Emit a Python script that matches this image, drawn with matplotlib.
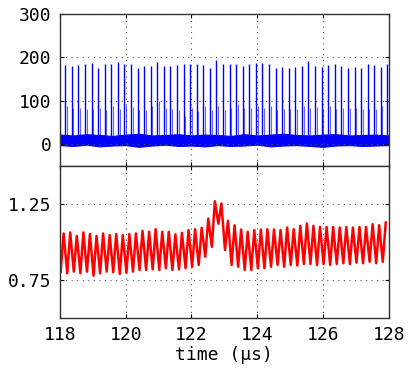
import numpy as np
import matplotlib
matplotlib.use("Agg")
import matplotlib.pyplot as plt

plt.rcParams['font.family'] = ['DejaVu Sans Mono', 'DejaVu Sans']
plt.rcParams['font.size'] = 13

# --- top panel: spike train (big spikes every 0.2 us, small one 0.05 us later)
big_t0 = 118.16
small_t0 = 118.01
spike_period = 0.2
big_h = [181, 179, 181, 185, 187, 176, 184, 184, 189, 185, 184, 176, 179, 179, 189, 179,
         180, 181, 184, 183, 185, 181, 176, 193, 185, 185, 185, 179, 185, 187, 187, 185, 176,
         177, 176, 177, 180, 190, 179, 177, 181, 184, 179, 176, 177, 176, 183, 181, 177, 185]
small_h = [79, 87, 84, 83, 81.5, 81.5, 83, 79, 87, 81.5, 89, 85, 79, 77.6, 87, 99, 83,
           80, 77.6, 64, 84, 76, 88.4, 77.6, 87, 79, 84, 91.5, 84, 84, 87, 84, 88.4, 77.6,
           81.5, 81.5, 81.5, 87, 83, 85, 80, 88.4, 81.5, 84, 83, 83, 81.5, 81.5, 80, 87]

# baseline noise band (upper / lower envelope, read every 0.4 us)
band_t = np.linspace(118.0, 128.0, 26)
band_hi = [22, 20, 23, 21, 19, 22, 24, 20, 21, 23, 20, 22, 21, 19, 23, 20, 22, 24, 21, 20,
           22, 23, 20, 21, 22, 20]
band_lo = [-2, -4, -1, -5, -3, -2, -6, -3, -1, -4, -3, -5, -2, -4, -3, -1, -5, -3, -2, -4,
           -6, -3, -2, -4, -3, -2]

# --- bottom panel: oscillation peaks and troughs
peak_t0 = 118.11
trough_t0 = 118.02
osc_period = 0.2
peaks = [1.056, 1.063, 1.040, 1.063, 1.052, 1.040, 1.056, 1.045, 1.052, 1.045, 1.052, 1.056,
         1.073, 1.067, 1.084, 1.067, 1.067,
         1.050, 1.060, 1.078, 1.084, 1.093, 1.154, 1.268, 1.253, 1.140, 1.110, 1.082, 1.067,
         1.078, 1.082, 1.084, 1.082,
         1.078, 1.095, 1.084, 1.106, 1.122, 1.106, 1.099, 1.099, 1.099, 1.095, 1.099, 1.095,
         1.099, 1.099, 1.117, 1.110, 1.128]
troughs = [0.805, 0.794, 0.805, 0.794, 0.805, 0.778, 0.794, 0.805, 0.801, 0.790, 0.798, 0.805,
           0.816, 0.816, 0.820, 0.816, 0.827,
           0.816, 0.820, 0.827, 0.837, 0.849, 0.903, 0.968, 1.120, 0.947, 0.849, 0.837, 0.816,
           0.816, 0.827, 0.827, 0.837, 0.849,
           0.837, 0.849, 0.845, 0.855, 0.855, 0.849, 0.855, 0.849, 0.855, 0.860, 0.855, 0.864,
           0.860, 0.870, 0.860, 0.870]

big_t = big_t0 + spike_period * np.arange(len(big_h))
small_t = small_t0 + spike_period * np.arange(len(small_h))
peak_t = peak_t0 + osc_period * np.arange(len(peaks))
trough_t = trough_t0 + osc_period * np.arange(len(troughs))

osc_t = np.concatenate([peak_t, trough_t])
osc_v = np.concatenate([peaks, troughs])
order = np.argsort(osc_t)
osc_t, osc_v = osc_t[order], osc_v[order]

fig = plt.figure(figsize=(4.15, 3.71), dpi=100)
ax1 = fig.add_axes([0.1446, 0.5526, 0.792, 0.411])
ax2 = fig.add_axes([0.1446, 0.1429, 0.792, 0.4097])

ax1.fill_between(band_t, band_lo, band_hi, color='#0000ff', lw=0.8)
ax1.vlines(big_t, 10, big_h, color='#0000ff', lw=1.0)
ax1.vlines(small_t, 10, small_h, color='#0000ff', lw=0.8, alpha=0.6)
ax1.set_ylim(-50, 300)
ax1.set_yticks([0, 100, 200, 300])

ax2.plot(osc_t, osc_v, color='#ff0000', lw=1.8)
ax2.set_ylim(0.5, 1.5)
ax2.set_yticks([0.75, 1.25])
ax2.set_yticklabels(['0.75', '1.25'])

for ax in (ax1, ax2):
    ax.set_xlim(118, 128)
    ax.set_xticks([118, 120, 122, 124, 126, 128])
    ax.grid(True, linestyle=(0, (1, 4)), color='#555555', lw=0.8)
    ax.tick_params(direction='in', length=3, top=True, right=True, pad=6)
    for s in ax.spines.values():
        s.set_color('#333333')
        s.set_linewidth(1.0)

ax1.tick_params(labelbottom=False)
ax2.set_xlabel('time (µs)', labelpad=1)

fig.savefig('out.png', dpi=100)
